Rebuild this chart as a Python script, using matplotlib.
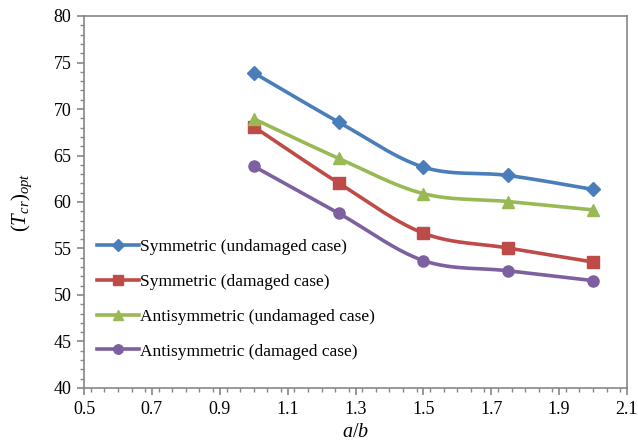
import numpy as np
import matplotlib
matplotlib.use("Agg")
import matplotlib.pyplot as plt
from matplotlib.ticker import MultipleLocator

plt.rcParams['font.family'] = ['Liberation Serif', 'DejaVu Serif']
plt.rcParams['mathtext.fontset'] = 'custom'
plt.rcParams['mathtext.it'] = 'Liberation Serif:italic'
plt.rcParams['mathtext.rm'] = 'Liberation Serif'

# a/b ratios and optimum critical loads
ab = [1.0, 1.25, 1.5, 1.75, 2.0]
sym_undamaged = [73.9, 68.6, 63.75, 62.85, 61.35]
sym_damaged = [68.1, 62.05, 56.65, 55.05, 53.55]
anti_undamaged = [68.95, 64.7, 60.9, 60.05, 59.15]
anti_damaged = [63.85, 58.8, 53.7, 52.6, 51.55]

labels = ["Symmetric (undamaged case)", "Symmetric (damaged case)",
          "Antisymmetric (undamaged case)", "Antisymmetric (damaged case)"]
colors = ["#4A7EBB", "#BE4B48", "#98B954", "#7D60A0"]
markers = ["D", "s", "^", "o"]
msizes = [7, 8.5, 8.5, 8]
xticks = [0.5, 0.7, 0.9, 1.1, 1.3, 1.5, 1.7, 1.9, 2.1]


def smooth(x, y, n=40):
    # Bezier smoothing through the points (Excel style smoothed line)
    x = np.asarray(x, float)
    y = np.asarray(y, float)
    px = np.concatenate([[x[0]], x, [x[-1]]])
    py = np.concatenate([[y[0]], y, [y[-1]]])
    xs, ys = [], []
    t = np.linspace(0, 1, n)
    for i in range(1, len(px) - 2):
        p0 = np.array([px[i], py[i]])
        p3 = np.array([px[i + 1], py[i + 1]])
        p1 = p0 + (np.array([px[i + 1], py[i + 1]]) - np.array([px[i - 1], py[i - 1]])) / 6
        p2 = p3 - (np.array([px[i + 2], py[i + 2]]) - np.array([px[i], py[i]])) / 6
        b = ((1 - t) ** 3)[:, None] * p0 + (3 * (1 - t) ** 2 * t)[:, None] * p1 \
            + (3 * (1 - t) * t ** 2)[:, None] * p2 + (t ** 3)[:, None] * p3
        xs.append(b[:, 0])
        ys.append(b[:, 1])
    return np.concatenate(xs), np.concatenate(ys)


fig = plt.figure(figsize=(6.38, 4.46), dpi=100)
ax = fig.add_axes([84 / 638, 1 - 388 / 446, (627 - 84) / 638, (388 - 16) / 446])

series = [sym_undamaged, sym_damaged, anti_undamaged, anti_damaged]
for vals, lab, c, m, ms in zip(series, labels, colors, markers, msizes):
    sx, sy = smooth(ab, vals)
    ax.plot(sx, sy, color=c, lw=2.6, solid_capstyle='round')
    ax.plot(ab, vals, ls='none', marker=m, color=c, ms=ms, mec=c)
    ax.plot([], [], color=c, lw=2.6, marker=m, ms=ms * 0.85, label=lab)

ax.set_xlim(0.5, 2.1)
ax.set_ylim(40, 80)
ax.set_xticks(xticks)
ax.set_xticklabels([f"{v:.1f}" for v in xticks])
ax.xaxis.set_minor_locator(MultipleLocator(0.04))
ax.yaxis.set_major_locator(MultipleLocator(5))
ax.yaxis.set_minor_locator(MultipleLocator(1))

for s in ax.spines.values():
    s.set_color("#868686")
    s.set_linewidth(1.2)
ax.tick_params(which='both', direction='out', color="#868686", labelsize=13)
ax.tick_params(which='major', length=5, width=1.2, pad=4)
ax.tick_params(which='minor', length=3, width=1)

ax.set_xlabel(r"$a/b$", fontsize=14.5, labelpad=4)
ax.set_ylabel(r"$(T_{cr})_{opt}$", fontsize=15, labelpad=14)

ax.legend(loc='upper left', bbox_to_anchor=(0.011, 0.42), frameon=False,
          fontsize=12.5, handlelength=2.4, handletextpad=0.1, labelspacing=1.08,
          borderaxespad=0.0)

fig.savefig("out.png", dpi=100)
